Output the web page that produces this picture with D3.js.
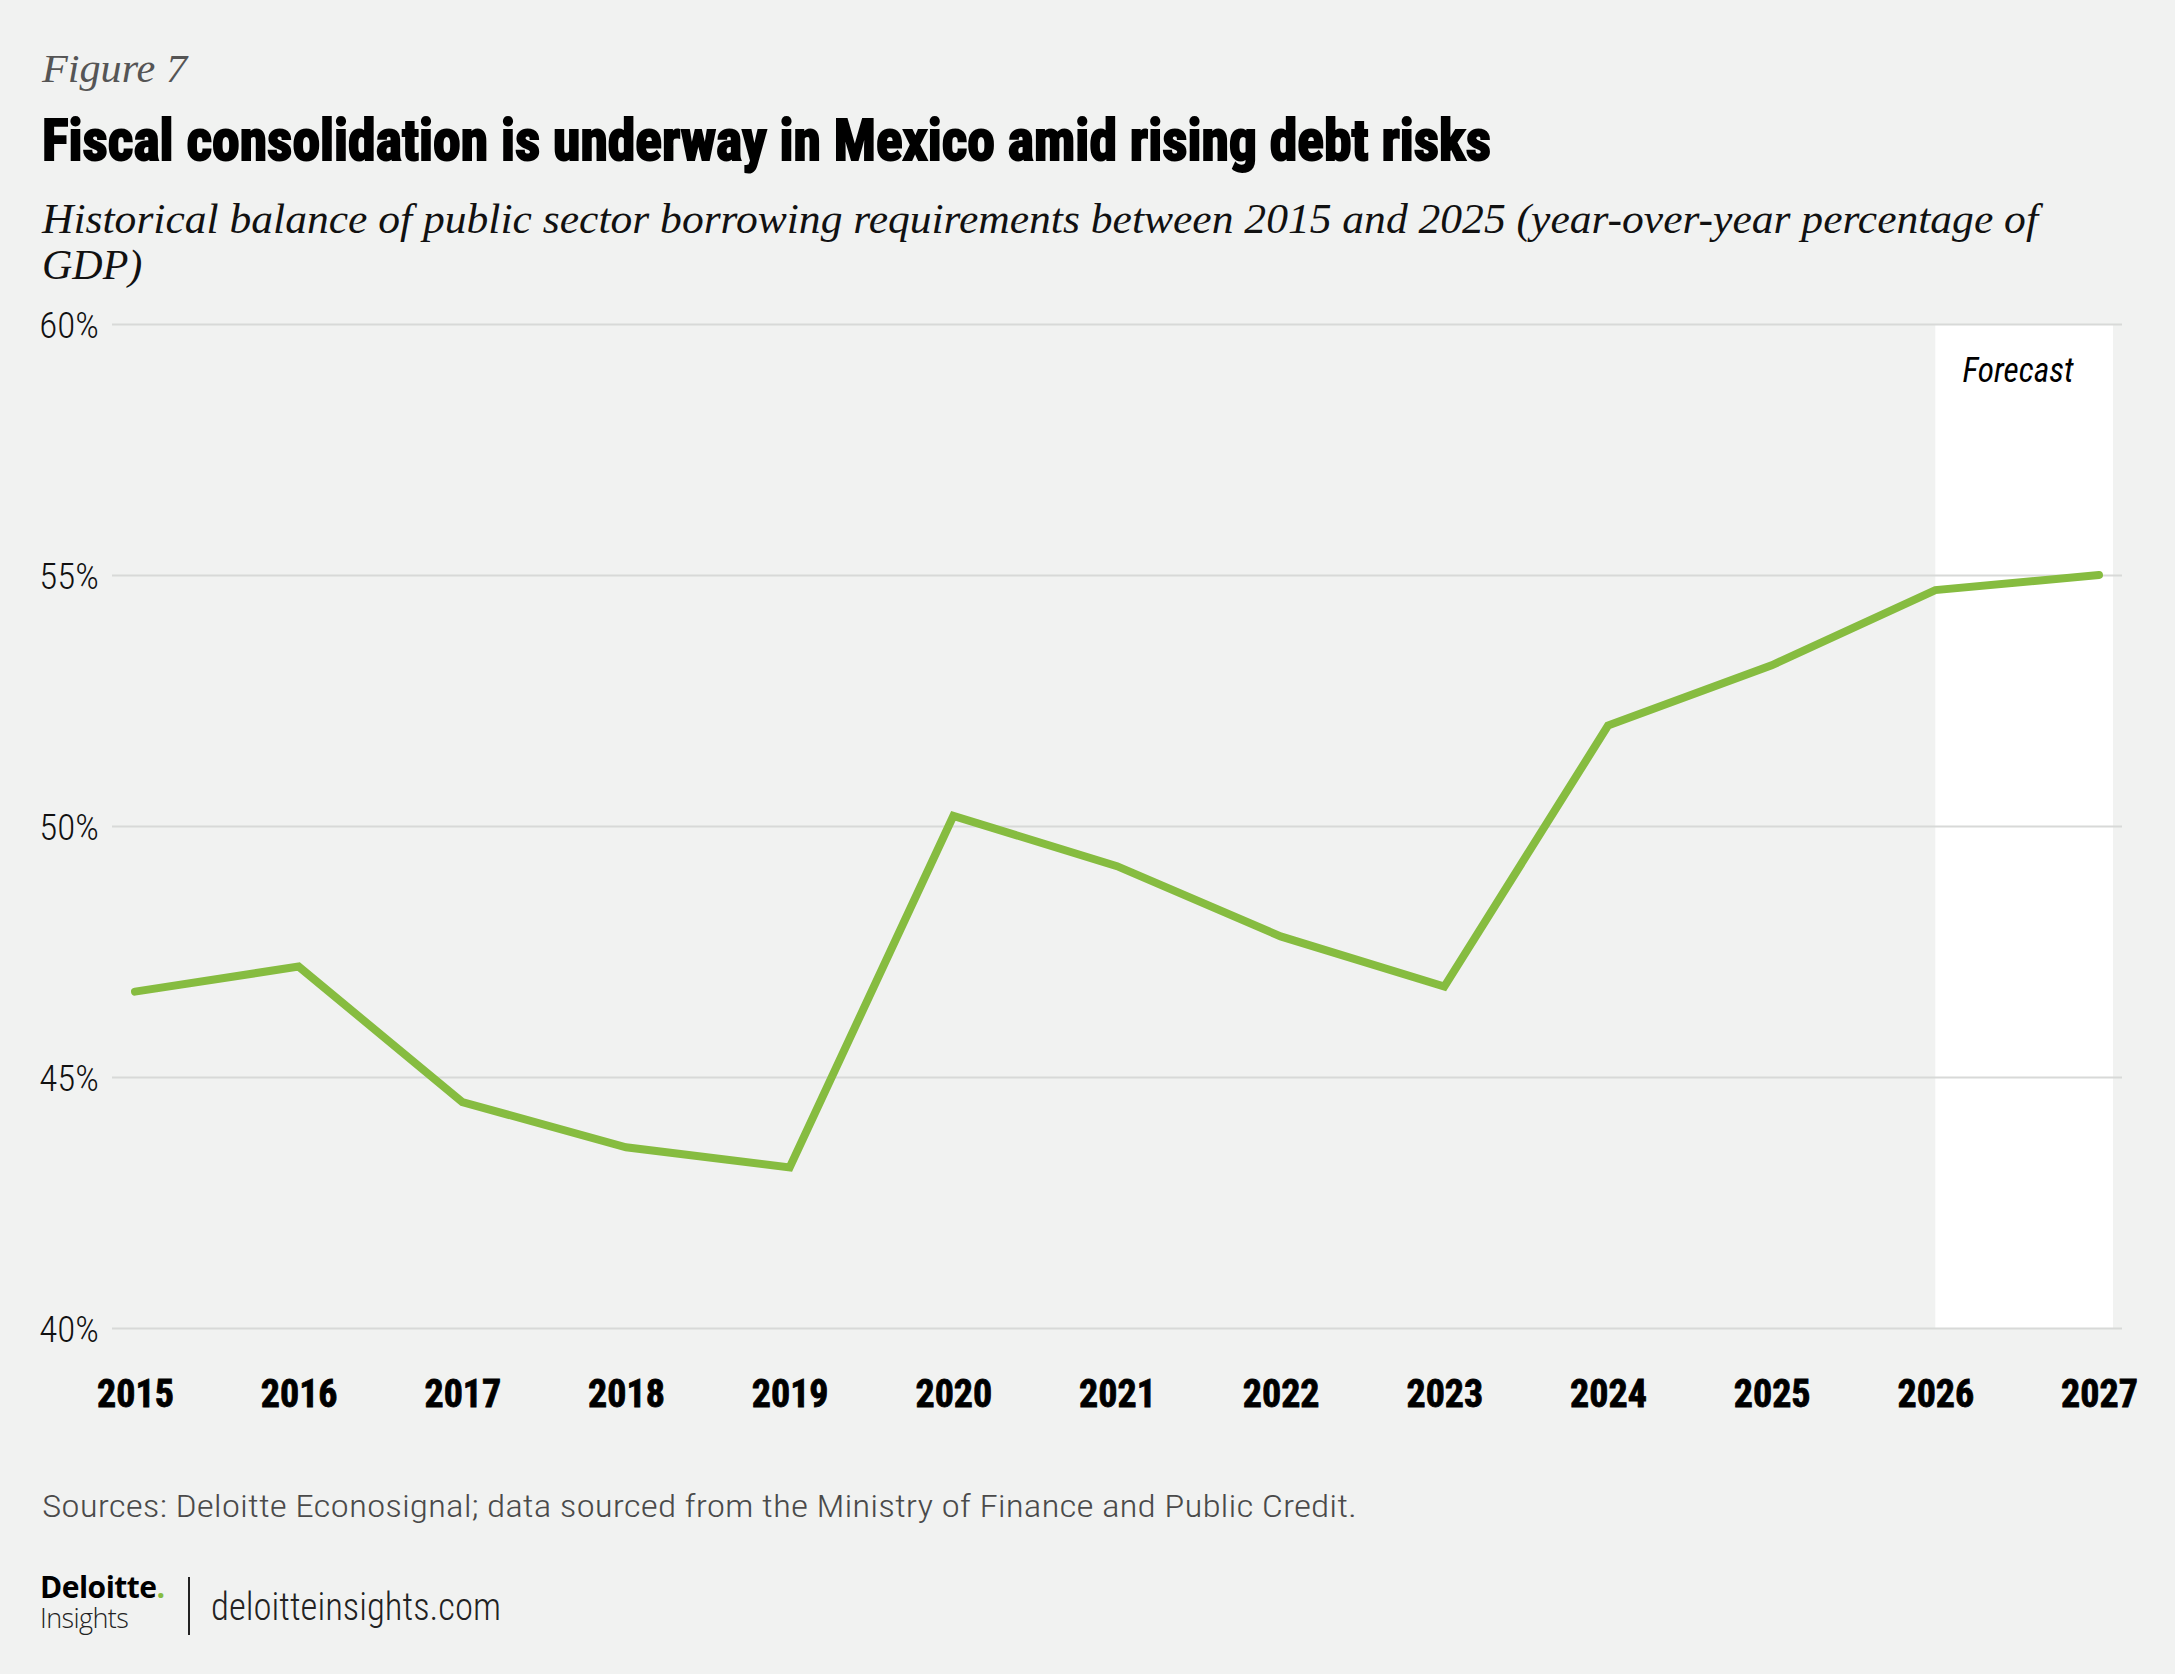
<!DOCTYPE html>
<html>
<head>
<meta charset="utf-8">
<script src="https://cdn.jsdelivr.net/npm/d3@7"></script>
<style>
  body { margin: 0; background: #f1f2f1; }
  svg { display: block; }
  .narrow { font-family: "Roboto Condensed", "Liberation Sans Narrow", "DejaVu Sans Condensed", sans-serif; }
  .serif { font-family: "Liberation Serif", "DejaVu Serif", serif; font-style: italic; }
  .logo { font-family: "Open Sans", Roboto, sans-serif; }
</style>
</head>
<body>
<svg id="chart" width="2175" height="1674"></svg>
<script>
// chart values
let years = [2015, 2016, 2017, 2018, 2019, 2020, 2021, 2022, 2023, 2024, 2025, 2026, 2027];
let debtShare = [46.7, 47.2, 44.5, 43.6, 43.2, 50.2, 49.2, 47.8, 46.8, 52.0, 53.2, 54.7, 55.0];
let yTicks = [40, 45, 50, 55, 60];
let forecastStart = 2026;

let svg = d3.select("#chart");

svg.append("rect").attr("width", 2175).attr("height", 1674).attr("fill", "#f1f2f1");

// scales
let x = d3.scalePoint().domain(years).range([135, 2099]);
let y = d3.scaleLinear().domain([40, 60]).range([1328, 324]);

// header texts
svg.append("text").attr("class", "serif")
    .attr("x", 42).attr("y", 82)
    .attr("font-size", 40).attr("fill", "#555")
    .attr("textLength", 145).attr("lengthAdjust", "spacingAndGlyphs")
    .text("Figure 7");

// heavy condensed title, a thin stroke makes it blacker
svg.append("text").attr("class", "narrow")
    .attr("x", 42).attr("y", 160)
    .attr("font-size", 58).attr("font-weight", 700).attr("fill", "#000")
    .attr("stroke", "#000").attr("stroke-width", 2)
    .attr("textLength", 1449).attr("lengthAdjust", "spacingAndGlyphs")
    .text("Fiscal consolidation is underway in Mexico amid rising debt risks");

svg.append("text").attr("class", "serif")
    .attr("x", 42).attr("y", 233)
    .attr("font-size", 42).attr("fill", "#111")
    .attr("textLength", 1996).attr("lengthAdjust", "spacingAndGlyphs")
    .text("Historical balance of public sector borrowing requirements between 2015 and 2025 (year-over-year percentage of");

svg.append("text").attr("class", "serif")
    .attr("x", 42).attr("y", 279)
    .attr("font-size", 42).attr("fill", "#111")
    .text("GDP)");

// forecast band
svg.append("rect")
    .attr("x", x(forecastStart))
    .attr("y", y(60))
    .attr("width", x(2027) + 14 - x(forecastStart))
    .attr("height", y(40) - y(60))
    .attr("fill", "#ffffff");

svg.append("text").attr("class", "narrow")
    .attr("x", 2018).attr("y", 382)
    .attr("text-anchor", "middle")
    .attr("font-size", 35).attr("font-style", "italic").attr("fill", "#000")
    .attr("textLength", 111).attr("lengthAdjust", "spacingAndGlyphs")
    .text("Forecast");

// y axis with gridlines
let yAxis = svg.append("g")
    .attr("transform", "translate(112,0)")
    .call(d3.axisLeft(y).tickValues(yTicks).tickSize(-2010).tickPadding(13).tickFormat(d => d + "%"));
yAxis.select(".domain").remove();
yAxis.selectAll(".tick line").attr("stroke", "#d8d9d8").attr("stroke-width", 2);
yAxis.selectAll(".tick text")
    .attr("class", "narrow")
    .attr("font-size", 37).attr("font-weight", 300).attr("fill", "#111")
    .attr("dy", "0.36em");

// x axis
let xAxis = svg.append("g")
    .attr("transform", `translate(0,${y(40)})`)
    .call(d3.axisBottom(x).tickSize(0));
xAxis.select(".domain").remove();
xAxis.selectAll(".tick text")
    .attr("class", "narrow")
    .attr("y", 79).attr("dy", 0)
    .attr("font-size", 38).attr("font-weight", 700).attr("fill", "#000")
    .attr("stroke", "#000").attr("stroke-width", 0.8);

// the line
let line = d3.line()
    .x((d, i) => x(years[i]))
    .y(d => y(d));

svg.append("path")
    .datum(debtShare)
    .attr("d", line)
    .attr("fill", "none")
    .attr("stroke", "#86bc40")
    .attr("stroke-width", 8)
    .attr("stroke-linecap", "round")
    .attr("stroke-linejoin", "miter");

// footer
svg.append("text").attr("class", "narrow")
    .attr("x", 42).attr("y", 1517)
    .attr("font-size", 31).attr("font-weight", 300).attr("fill", "#4a4a4a")
    .attr("textLength", 1315).attr("lengthAdjust", "spacingAndGlyphs")
    .text("Sources: Deloitte Econosignal; data sourced from the Ministry of Finance and Public Credit.");

// logo: two stacked words in one text element
let logo = svg.append("text").attr("class", "logo").attr("fill", "#000");
let mark = logo.append("tspan")
    .attr("x", 40).attr("y", 1598)
    .attr("font-size", 30).attr("font-weight", 700)
    .attr("letter-spacing", -0.5);
mark.append("tspan").text("Deloitte");
mark.append("tspan").attr("fill", "#86bc40").text(".");
logo.append("tspan")
    .attr("x", 40).attr("y", 1628)
    .attr("font-size", 27).attr("font-weight", 300).attr("fill", "#222")
    .attr("letter-spacing", -0.6)
    .text("Insights");

svg.append("line")
    .attr("x1", 189).attr("x2", 189)
    .attr("y1", 1577).attr("y2", 1635)
    .attr("stroke", "#222").attr("stroke-width", 2);

svg.append("text").attr("class", "narrow")
    .attr("x", 211).attr("y", 1620)
    .attr("font-size", 39).attr("font-weight", 300).attr("fill", "#222")
    .attr("textLength", 290).attr("lengthAdjust", "spacingAndGlyphs")
    .text("deloitteinsights.com");
</script>
</body>
</html>
